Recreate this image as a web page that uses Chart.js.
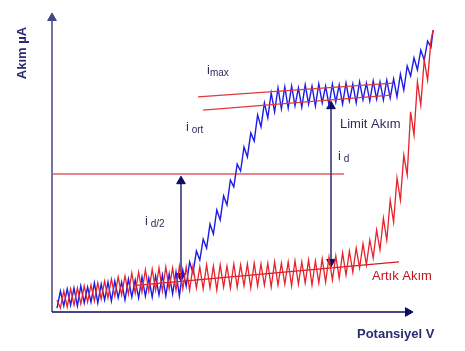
<!DOCTYPE html>
<html>
<head>
<meta charset="utf-8">
<script src="https://cdn.jsdelivr.net/npm/chart.js@4.4.0/dist/chart.umd.min.js"></script>
<style>
body { margin: 0; background: #fff; }
</style>
</head>
<body>
<canvas id="polarogram" width="465" height="351"></canvas>
<script>
// potential sweep, arbitrary units (0-100 across the plot)
const potential = [
  1.25, 2.10, 2.95, 3.80, 4.65, 5.50, 6.35, 7.20, 8.05, 8.90,
  9.75, 10.60, 11.45, 12.30, 13.15, 14.00, 14.85, 15.70, 16.55, 17.40,
  18.25, 19.10, 19.95, 20.80, 21.65, 22.50, 23.35, 24.20, 25.05, 25.90,
  26.75, 27.60, 28.45, 29.30, 30.15, 31.00, 31.85, 32.70, 33.55, 34.40,
  35.25, 36.10, 36.95, 37.80, 38.65, 39.50, 40.35, 41.20, 42.05, 42.90,
  43.75, 44.60, 45.45, 46.30, 47.15, 48.00, 48.85, 49.70, 50.55, 51.40,
  52.25, 53.10, 53.95, 54.80, 55.65, 56.50, 57.35, 58.20, 59.05, 59.90,
  60.75, 61.60, 62.45, 63.30, 64.15, 65.00, 65.85, 66.70, 67.55, 68.40,
  69.25, 70.10, 70.95, 71.80, 72.65, 73.50, 74.35, 75.20, 76.05, 76.90,
  77.75, 78.60, 79.45, 80.30, 81.15, 82.00, 82.85, 83.70, 84.55, 85.40,
  86.25, 87.10, 87.95, 88.80, 89.65, 90.50, 91.35, 92.20, 93.05, 93.90,
  94.75, 95.30
];

// sample polarogram (blue)
const sampleCurrent = [
  1.3, 7.0, 2.0, 7.7, 2.3, 8.0, 2.0, 8.7, 3.0, 8.3,
  3.3, 9.7, 3.0, 9.3, 4.0, 10.0, 3.7, 10.3, 4.7, 10.0,
  4.0, 11.0, 5.0, 10.7, 4.7, 11.7, 5.3, 11.3, 5.0, 12.0,
  5.7, 12.3, 5.3, 12.7, 6.0, 13.3, 5.3, 14.0, 8.7, 16.7,
  13.0, 20.3, 17.3, 24.3, 21.3, 29.3, 26.0, 34.0, 30.7, 38.7,
  35.7, 44.0, 41.7, 49.3, 47.0, 55.0, 51.7, 59.7, 57.0, 65.7,
  61.7, 69.7, 64.7, 73.0, 66.7, 74.7, 67.7, 75.0, 68.0, 75.3,
  68.7, 74.7, 68.3, 75.7, 69.3, 75.3, 68.7, 76.0, 69.7, 75.3,
  69.0, 76.0, 70.0, 75.7, 69.3, 76.3, 70.3, 76.0, 69.7, 76.7,
  70.7, 76.3, 70.3, 77.0, 71.0, 76.7, 70.7, 77.3, 71.3, 77.7,
  71.7, 79.3, 74.0, 82.0, 78.7, 84.7, 80.7, 87.3, 84.0, 90.3,
  88.3, 94.0
];

// residual current (red)
const residualCurrent = [
  4.0, 1.3, 7.0, 1.7, 7.7, 2.3, 8.0, 2.7, 8.7, 3.3,
  9.0, 3.7, 9.7, 4.3, 10.3, 4.7, 11.0, 5.3, 11.7, 5.7,
  12.0, 6.0, 13.0, 6.3, 13.3, 6.7, 14.0, 7.0, 14.3, 7.3,
  14.7, 7.0, 15.0, 7.7, 14.7, 7.3, 15.3, 7.7, 15.0, 7.3,
  15.3, 8.0, 15.0, 7.7, 15.7, 8.0, 15.3, 7.3, 15.7, 8.3,
  15.3, 8.0, 16.0, 8.3, 15.7, 8.7, 16.0, 8.0, 16.3, 8.7,
  16.0, 9.0, 16.3, 8.3, 16.7, 9.0, 16.3, 9.3, 16.7, 8.7,
  17.0, 9.3, 16.7, 9.7, 17.3, 9.0, 17.0, 9.7, 17.7, 10.0,
  18.3, 10.7, 18.7, 11.3, 19.7, 12.3, 20.3, 13.3, 21.3, 14.7,
  22.7, 15.7, 24.0, 18.0, 27.3, 20.7, 31.3, 24.0, 37.3, 30.0,
  44.7, 37.3, 52.3, 45.7, 66.7, 59.0, 76.7, 69.0, 84.0, 77.3,
  90.7, 94.0
];

// guide lines
const halfWaveV = [0.25, 73];     const halfWaveI = [46, 46];
const maxUpperV = [36.5, 85.25];  const maxUpperI = [71.7, 76.3];
const maxLowerV = [37.75, 84.75]; const maxLowerI = [67.3, 72.3];
const residualV = [20.25, 86.75]; const residualI = [8.8, 16.7];

// double arrows (i d/2 and i d)
const halfArrowV = [32.25, 32.25];  const halfArrowI = [12.0, 43.6];
const limitArrowV = [69.75, 69.75]; const limitArrowI = [16.7, 68.6];

// axes
const xAxisV = [0, 89]; const xAxisI = [0, 0];
const yAxisV = [0, 0];  const yAxisI = [0, 98];

// annotations
const noteText  = ['i', 'i', 'i', 'i', 'Limit Akım', 'Artık Akım'];
const noteSub   = ['max', ' ort', ' d', ' d/2', '', ''];
const noteV     = [38.75, 33.5, 71.5, 23.25, 72, 80];
const noteI     = [79.3, 60.3, 50.7, 29, 61.3, 10.7];
const noteColor = ['#2d2d5a', '#2d2d5a', '#2d2d5a', '#2d2d5a', '#2d2d5a', '#c0141e'];

const navy = '#0b0b62';
const FONT = '"Liberation Sans", Arial, sans-serif';

const pts = (xs, ys) => xs.map((x, i) => ({ x: x, y: ys[i] }));

function guide(xs, ys, color) {
  return { data: pts(xs, ys), borderColor: color, borderWidth: 1.2, pointRadius: 0 };
}

function arrow(xs, ys, color, radius, rotation, width) {
  return {
    data: pts(xs, ys),
    borderColor: color,
    borderWidth: width,
    pointStyle: 'triangle',
    pointRadius: radius,
    pointRotation: rotation,
    pointBackgroundColor: color,
    pointBorderColor: color,
    pointBorderWidth: 1,
  };
}

const labelPlugin = {
  id: 'labels',
  afterDatasetsDraw(chart) {
    const { ctx, scales: { x, y } } = chart;
    ctx.save();
    ctx.textBaseline = 'alphabetic';
    noteText.forEach((t, i) => {
      const px = x.getPixelForValue(noteV[i]);
      const py = y.getPixelForValue(noteI[i]);
      ctx.fillStyle = noteColor[i];
      ctx.font = '13px ' + FONT;
      ctx.fillText(t, px, py);
      if (noteSub[i]) {
        const w = ctx.measureText(t).width;
        ctx.font = '10px ' + FONT;
        ctx.fillText(noteSub[i], px + w, py + 2);
      }
    });
    // axis titles
    ctx.fillStyle = '#2b2b70';
    ctx.font = 'bold 13px ' + FONT;
    ctx.fillText('Potansiyel V', x.getPixelForValue(76.25), y.getPixelForValue(-8.67));
    ctx.translate(x.getPixelForValue(-7.5), y.getPixelForValue(86.3));
    ctx.rotate(-Math.PI / 2);
    ctx.textAlign = 'center';
    ctx.textBaseline = 'middle';
    ctx.fillText('Akım µA', 0, 0);
    ctx.restore();
  }
};

new Chart(document.getElementById('polarogram'), {
  type: 'line',
  data: {
    datasets: [
      guide(halfWaveV, halfWaveI, '#c8101c'),
      guide(maxUpperV, maxUpperI, '#e03a3a'),
      guide(maxLowerV, maxLowerI, '#e03a3a'),
      {
        label: 'Artık Akım',
        data: pts(potential, residualCurrent),
        borderColor: '#e8222a',
        borderWidth: 1.3,
        pointRadius: 0,
      },
      guide(residualV, residualI, '#d81a22'),
      {
        label: 'Limit Akım',
        data: pts(potential, sampleCurrent),
        borderColor: '#1c1ce6',
        borderWidth: 1.4,
        pointRadius: 0,
      },
      arrow(halfArrowV, halfArrowI, navy, 5, [180, 0], 1.3),
      arrow(limitArrowV, limitArrowI, navy, 5, [180, 0], 1.3),
      arrow(xAxisV, xAxisI, navy, [0, 5], [0, 90], 1.5),
      arrow(yAxisV, yAxisI, '#44448a', [0, 5], [0, 0], 1.5),
    ]
  },
  options: {
    responsive: false,
    animation: false,
    layout: { padding: { left: 52, top: 12, right: 13, bottom: 39 } },
    elements: { line: { tension: 0, fill: false } },
    datasets: { line: { clip: false } },
    plugins: { legend: { display: false }, tooltip: { enabled: false } },
    scales: {
      x: { type: 'linear', min: 0, max: 100, display: false },
      y: { type: 'linear', min: 0, max: 100, display: false },
    },
  },
  plugins: [labelPlugin],
});
</script>
</body>
</html>
